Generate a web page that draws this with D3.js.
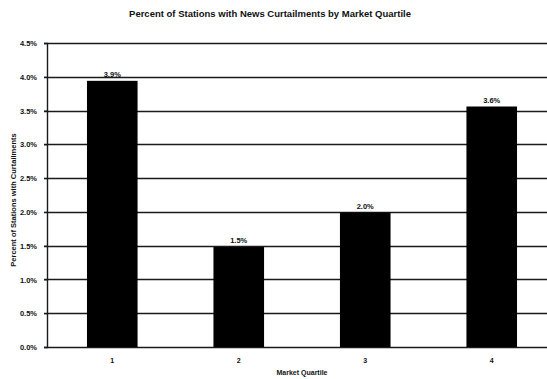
<!DOCTYPE html>
<html>
<head>
<meta charset="utf-8">
<script src="https://cdn.jsdelivr.net/npm/d3@7"></script>
<style>
  body { margin: 0; background: #fff; }
  svg text { font-family: "Liberation Sans", Arial, sans-serif; font-weight: bold; fill: #111; }
</style>
</head>
<body>
<div id="chart"></div>
<script>
// data
const quartiles = ["1", "2", "3", "4"];
const percents = [3.94, 1.48, 1.99, 3.56];
const yTicks = [0, 0.5, 1, 1.5, 2, 2.5, 3, 3.5, 4, 4.5];

const W = 547, H = 379;
let margin = { top: 43, left: 47, bottom: 32 };
const plotRight = 557;
const height = H - margin.top - margin.bottom;

const svg = d3.select("#chart").append("svg")
  .attr("width", W).attr("height", H);

// title
svg.append("text")
  .attr("x", 270).attr("y", 17)
  .attr("text-anchor", "middle")
  .style("font-size", "9.5px")
  .text("Percent of Stations with News Curtailments by Market Quartile");

const x = d3.scaleBand()
  .domain(quartiles)
  .range([margin.left, plotRight])
  .paddingInner(0.6)
  .paddingOuter(0.316);

const y = d3.scaleLinear().domain([0, 4.5]).range([margin.top + height, margin.top]);

// gridlines
svg.append("g")
  .selectAll("line")
  .data(yTicks)
  .enter()
  .append("line")
  .attr("x1", margin.left - 3)
  .attr("x2", W)
  .attr("y1", d => Math.round(y(d)) + 0.5)
  .attr("y2", d => Math.round(y(d)) + 0.5)
  .attr("stroke", "#1a1a1a")
  .attr("stroke-width", 1.4);

// y axis
const yAxis = svg.append("g")
  .attr("transform", "translate(" + margin.left + ",0)")
  .call(d3.axisLeft(y).tickValues(yTicks).tickFormat(d => d.toFixed(1) + "%").tickSize(3));
yAxis.select(".domain").attr("stroke", "#1a1a1a").attr("stroke-width", 1.4);
yAxis.selectAll(".tick line").attr("stroke", "#1a1a1a");
yAxis.selectAll("text").style("font-size", "7.5px").attr("dx", "-4").attr("dy", "0.35em");

// x axis labels
const xAxis = svg.append("g")
  .attr("transform", "translate(0," + (margin.top + height) + ")")
  .call(d3.axisBottom(x).tickSize(0).tickPadding(11));
xAxis.select(".domain").remove();
xAxis.selectAll("text").style("font-size", "7px");

// bars
const bars = svg.selectAll(".bar")
  .data(percents)
  .enter()
  .append("rect")
  .attr("x", (d, i) => x(quartiles[i]))
  .attr("width", x.bandwidth())
  .attr("y", d => y(d))
  .attr("height", d => y(0) - y(d))
  .attr("fill", "#000");

// value labels
svg.selectAll(".val")
  .data(percents)
  .enter()
  .append("text")
  .attr("x", (d, i) => x(quartiles[i]) + x.bandwidth() / 2)
  .attr("y", d => y(d) - 4)
  .attr("text-anchor", "middle")
  .style("font-size", "7.5px")
  .text(d => d.toFixed(1) + "%");

// axis titles
svg.append("text")
  .attr("x", (margin.left + plotRight) / 2).attr("y", 375)
  .attr("text-anchor", "middle")
  .style("font-size", "7px")
  .text("Market Quartile");

svg.append("text")
  .attr("transform", "translate(16," + 200 + ")rotate(-90)")
  .attr("text-anchor", "middle")
  .style("font-size", "7.5px")
  .text("Percent of Stations with Curtailments");
</script>
</body>
</html>
